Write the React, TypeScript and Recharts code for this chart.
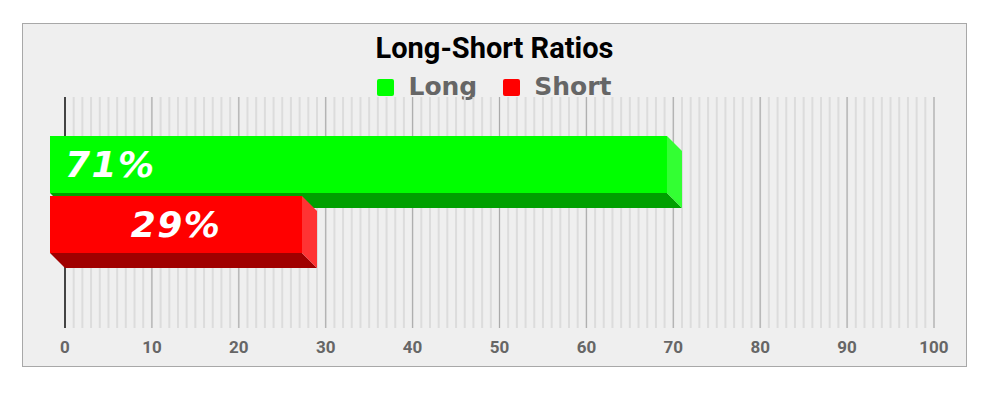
import React from "react";
import {
  BarChart,
  Bar,
  XAxis,
  YAxis,
  CartesianGrid,
} from "recharts";

// data
const categories = ["Ratio"];
const longValues = [71];
const shortValues = [29];
const seriesNames = ["Long", "Short"];
const xTicks = [0, 10, 20, 30, 40, 50, 60, 70, 80, 90, 100];

const minorValues = Array.from({ length: 101 }, (_, i) => i);

const colors = {
  Long: { front: "#00ff00", side: "#33ff33", bottom: "#00a000" },
  Short: { front: "#ff0000", side: "#ff3333", bottom: "#a00000" },
};

const DEPTH = 15;

const data = categories.map((name, i) => ({
  name,
  Long: longValues[i],
  Short: shortValues[i],
}));

function scaleOf(xAxis: any) {
  const s = xAxis?.scale;
  if (!s) return null;
  return (v: number) => (typeof s === "function" ? s(v) : s.map(v));
}

const gridFor = (values: number[]) => (props: any) => {
  const f = scaleOf(props.xAxis);
  return f ? values.map((v) => f(v)) : [];
};

function Bar3D(props: any) {
  const { x, y, width, height, c } = props;
  const d = DEPTH;
  return (
    <g>
      <polygon
        points={`${x - d},${y + height - d} ${x + width - d},${y + height - d} ${x + width},${y + height} ${x},${y + height}`}
        fill={c.bottom}
      />
      <polygon
        points={`${x + width - d},${y - d} ${x + width},${y} ${x + width},${y + height} ${x + width - d},${y + height - d}`}
        fill={c.side}
      />
      <rect x={x - d} y={y - d} width={width} height={height} fill={c.front} />
    </g>
  );
}

const labelFor = (align: "left" | "center") => (props: any) => {
  const { x, y, width, height, value } = props;
  const d = DEPTH;
  const cx = align === "left" ? x : x - d + width / 2;
  return (
    <text
      x={cx}
      y={y - d + height / 2}
      dy="0.36em"
      textAnchor={align === "left" ? "start" : "middle"}
      fill="#ffffff"
      fontFamily="'DejaVu Sans', Verdana, sans-serif"
      fontWeight="bold"
      fontStyle="italic"
      fontSize={36}
      letterSpacing={1.5}
    >
      {value}%
    </text>
  );
};

export default function App() {
  return (
    <div
      style={{
        position: "absolute",
        left: 22,
        top: 23,
        width: 943,
        height: 342,
        background: "#efefef",
        border: "1px solid #a8a8a8",
      }}
    >
      {/* TITLE */}
      <div
        style={{
          position: "absolute",
          left: 0,
          right: 0,
          top: 9,
          textAlign: "center",
          fontFamily: "Roboto, sans-serif",
          fontWeight: "bold",
          fontSize: 29,
          lineHeight: "30px",
          color: "#000",
        }}
      >
        Long-Short Ratios
      </div>

      {/* LEGEND */}
      <div
        style={{
          position: "absolute",
          left: 0,
          right: 0,
          top: 48,
          display: "flex",
          justifyContent: "center",
          alignItems: "center",
          gap: 26,
          fontFamily: "'DejaVu Sans', Verdana, sans-serif",
          fontWeight: "bold",
          fontSize: 25,
          lineHeight: "30px",
          color: "#666666",
        }}
      >
        {seriesNames.map((n) => (
          <div key={n} style={{ display: "flex", alignItems: "center" }}>
            <div
              style={{
                width: 17,
                height: 17,
                borderRadius: 2,
                background: colors[n as "Long" | "Short"].front,
                marginRight: 14,
              }}
            />
            <span>{n}</span>
          </div>
        ))}
      </div>

      <BarChart
        width={943}
        height={342}
        data={data}
        layout="vertical"
        margin={{ top: 73, right: 32, left: 42, bottom: 0 }}
        barSize={57}
        barGap={3}
      >
        <CartesianGrid
          horizontal={false}
          stroke="#dcdcdc"
          strokeWidth={2}
          verticalCoordinatesGenerator={gridFor(minorValues)}
        />
        <CartesianGrid
          horizontal={false}
          stroke="#aaaaaa"
          verticalCoordinatesGenerator={gridFor(xTicks)}
        />
        <CartesianGrid
          horizontal={false}
          stroke="#444444"
          strokeWidth={2}
          verticalCoordinatesGenerator={gridFor([0])}
        />
        <XAxis
          type="number"
          domain={[0, 100]}
          ticks={xTicks}
          interval={0}
          axisLine={false}
          tickLine={false}
          tickSize={0}
          tickMargin={13}
          height={38}
          tick={{
            fill: "#666666",
            fontSize: 17,
            fontFamily: "Roboto, sans-serif",
            fontWeight: "bold",
          }}
        />
        <YAxis
          type="category"
          dataKey="name"
          hide
          padding={{ top: 0, bottom: 6 }}
        />
        <Bar
          dataKey="Long"
          isAnimationActive={false}
          shape={(p: any) => <Bar3D {...p} c={colors.Long} />}
          label={labelFor("left")}
        />
        <Bar
          dataKey="Short"
          isAnimationActive={false}
          shape={(p: any) => <Bar3D {...p} c={colors.Short} />}
          label={labelFor("center")}
        />
      </BarChart>
    </div>
  );
}
